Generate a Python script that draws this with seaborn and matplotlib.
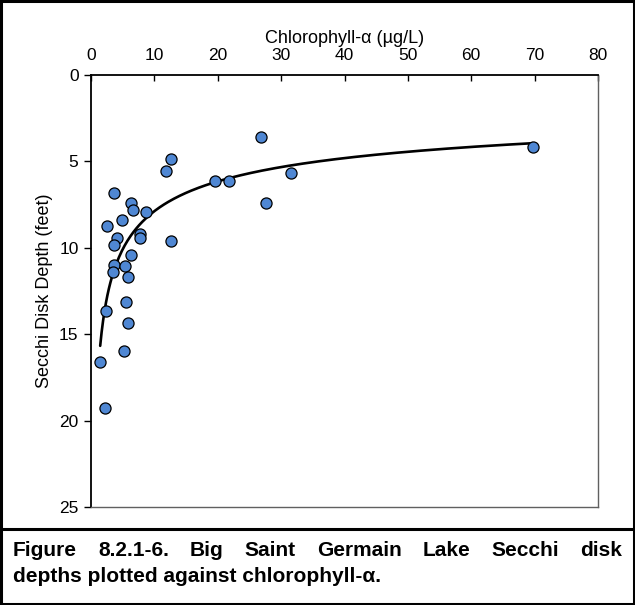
import numpy as np
import pandas as pd
import matplotlib
matplotlib.use("Agg")
import matplotlib.pyplot as plt
import seaborn as sns

# Data
chlorophyll = [12.6, 11.8, 3.6, 6.3, 6.6, 8.6, 4.9, 2.6, 7.8, 7.7, 4.05, 3.6, 12.6,
               6.3, 3.6, 5.4, 3.4, 5.8, 5.6, 2.4, 5.8, 5.2, 1.45, 2.2,
               26.8, 19.6, 21.8, 31.6, 27.6, 69.7]
secchi_depth = [4.85, 5.58, 6.83, 7.40, 7.79, 7.92, 8.37, 8.75, 9.19, 9.42, 9.42, 9.81, 9.62,
                10.43, 11.0, 11.06, 11.39, 11.68, 13.14, 13.68, 14.33, 15.97, 16.6, 19.27,
                3.6, 6.15, 6.15, 5.65, 7.42, 4.19]
x_ticks = [0, 10, 20, 30, 40, 50, 60, 70, 80]
y_ticks = [0, 5, 10, 15, 20, 25]
x_label = "Chlorophyll-α (µg/L)"
y_label = "Secchi Disk Depth (feet)"
caption_line1 = "Figure 8.2.1-6. Big Saint Germain Lake Secchi disk"
caption_line2 = "depths plotted against chlorophyll-α."

sns.set_theme(style="white")
plt.rcParams['font.family'] = ['Liberation Sans', 'DejaVu Sans']
plt.rcParams.update({"text.color": "black", "axes.labelcolor": "black",
                     "xtick.color": "black", "ytick.color": "black"})

df = pd.DataFrame({"chl": chlorophyll, "sd": secchi_depth})

# Power trendline (least squares in log-log space, like a spreadsheet power fit)
b, ln_a = np.polyfit(np.log(df["chl"]), np.log(df["sd"]), 1)
xs = np.linspace(df["chl"].min(), df["chl"].max(), 300)
trend = pd.DataFrame({"chl": xs, "sd": np.exp(ln_a) * xs ** b})

W, H = 635, 605
fig = plt.figure(figsize=(W / 100, H / 100), dpi=100)
ax = fig.add_axes([91 / W, 1 - 507 / H, (598 - 91) / W, (507 - 75) / H])

sns.lineplot(data=trend, x="chl", y="sd", ax=ax, color="black", linewidth=1.9,
             sort=False, estimator=None, zorder=2)
sns.scatterplot(data=df, x="chl", y="sd", ax=ax, s=64, color="#4F87D3",
                edgecolor="black", linewidth=0.9, zorder=3)

fs_tick = 12.5
fs_label = 13
ax.set_xlim(0, 80)
ax.set_ylim(25, 0)
ax.set_xticks(x_ticks)
ax.set_yticks(y_ticks)
ax.xaxis.tick_top()
ax.xaxis.set_label_position("top")
ax.set_xlabel(x_label, fontsize=fs_label, labelpad=3)
ax.set_ylabel(y_label, fontsize=fs_label, labelpad=4)
ax.tick_params(axis="x", direction="in", length=4, width=1, colors="black",
               labelsize=fs_tick, pad=9, top=True, bottom=False)
ax.tick_params(axis="y", direction="out", length=5, width=1, colors="black",
               labelsize=fs_tick, pad=4, left=True)
for s in ["top", "left"]:
    ax.spines[s].set_color("black")
    ax.spines[s].set_linewidth(1.3)
for s in ["right", "bottom"]:
    ax.spines[s].set_color("#606060")
    ax.spines[s].set_linewidth(1.0)

# outer border and divider
fig.add_artist(plt.Rectangle((0.002, 0.002), 0.996, 0.996, transform=fig.transFigure,
                             fill=False, edgecolor="black", linewidth=2.2))
fig.add_artist(plt.Line2D([0, 1], [1 - 529 / H, 1 - 529 / H], transform=fig.transFigure,
                          color="black", linewidth=2.2))

# Caption: justified first line, left-aligned second line
fs = 15
left_px, right_px = 13, 622
y1 = 1 - 556 / H
y2 = 1 - 582 / H
fig.canvas.draw()
renderer = fig.canvas.get_renderer()
words = caption_line1.split(" ")
texts = []
widths = []
for w in words:
    t = fig.text(0, y1, w, fontsize=fs, fontweight="bold", va="baseline", ha="left")
    texts.append(t)
    widths.append(t.get_window_extent(renderer).width)
gap = (right_px - left_px - sum(widths)) / (len(words) - 1)
xcur = left_px
for t, wd in zip(texts, widths):
    t.set_x(xcur / W)
    xcur += wd + gap
fig.text(left_px / W, y2, caption_line2, fontsize=fs, fontweight="bold",
         va="baseline", ha="left")

fig.savefig("out.png", dpi=100)
